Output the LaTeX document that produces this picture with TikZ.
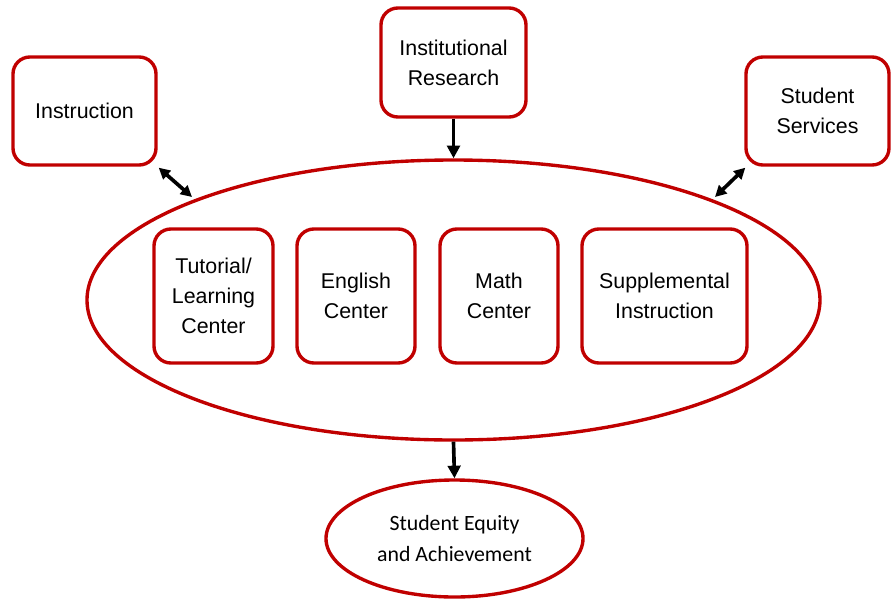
\documentclass[tikz,border=0pt]{standalone}
\usepackage{fontspec}
\setmainfont{Liberation Sans}
\newfontfamily\calfont{Carlito}
\usetikzlibrary{shapes.geometric,arrows.meta}
\definecolor{boxred}{RGB}{192,0,0}

\begin{document}
\begin{tikzpicture}[x=0.025cm,y=-0.025cm,
  box/.style={draw=boxred, line width=2.4pt, rounded corners=12pt, fill=white,
    align=center, font=\fontsize{15.2}{21.5}\selectfont, inner sep=0pt},
  oval/.style={draw=boxred, line width=2.4pt, ellipse, inner sep=0pt},
  arr/.style={line width=2.6pt, -{Triangle[length=9pt,width=9pt]}},
  darr/.style={line width=2.6pt, {Triangle[length=8pt,width=8pt]}-{Triangle[length=8pt,width=8pt]}}]
\useasboundingbox (0,0) rectangle (896,600);
% big oval and the centres inside it
\node[oval, minimum width=733*0.025cm, minimum height=280*0.025cm] (hub) at (453.5,300) {};
\node[box, minimum width=119*0.025cm, minimum height=134*0.025cm] (tutor) at (213.5,296) {Tutorial/\\Learning\\Center};
\node[box, minimum width=118*0.025cm, minimum height=134*0.025cm] (english) at (356,296) {English\\Center};
\node[box, minimum width=118*0.025cm, minimum height=134*0.025cm] (math) at (499,296) {Math\\Center};
\node[box, minimum width=165*0.025cm, minimum height=134*0.025cm] (suppl) at (664.5,296) {Supplemental\\Instruction};
% outer boxes
\node[box, minimum width=143*0.025cm, minimum height=108*0.025cm] (instr) at (84.5,111) {Instruction};
\node[box, minimum width=145*0.025cm, minimum height=109*0.025cm] (research) at (453.5,62.5) {Institutional\\Research};
\node[box, minimum width=143*0.025cm, minimum height=108*0.025cm] (services) at (817.5,111) {Student\\Services};
% result
\node[oval, minimum width=257*0.025cm, minimum height=117*0.025cm, align=center,
  font=\calfont\fontsize{15.5}{22}\selectfont] (equity) at (454.5,538.5) {Student Equity\\and Achievement};
% connectors
\coordinate (instrEnd) at (192,197);
\coordinate (servEnd) at (715,197);
\draw[arr] (research.south) -- (hub.north);
\draw[arr] (hub.south) -- (equity.north);
\draw[darr] (instr.south east) ++(1,1) -- (instrEnd);
\draw[darr] (services.south west) ++(1,1) -- (servEnd);
\end{tikzpicture}
\end{document}
